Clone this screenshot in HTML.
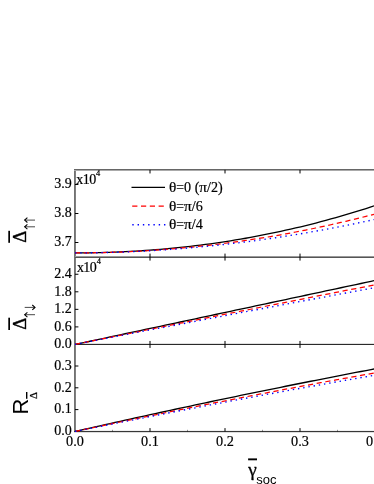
<!DOCTYPE html>
<html><head><meta charset="utf-8"><title>chart</title>
<style>html,body{margin:0;padding:0;background:#fff;}body{width:374px;height:484px;overflow:hidden;font-family:"Liberation Sans",sans-serif;}svg{display:block;will-change:transform;}</style></head>
<body>
<svg width="374" height="484" viewBox="0 0 374 484">
<rect width="374" height="484" fill="#fff"/>
<rect x="74" y="169" width="1" height="263" fill="#727272"/>
<rect x="75" y="169" width="1" height="263" fill="#808080"/>
<rect x="74" y="169" width="300" height="1" fill="#666"/>
<rect x="74" y="170" width="300" height="1" fill="#aaa"/>
<rect x="75" y="256" width="299" height="1" fill="#999"/>
<rect x="75" y="257" width="299" height="1" fill="#555"/>
<rect x="76" y="343" width="298" height="1" fill="#e0e0e0"/>
<rect x="75" y="344" width="299" height="1" fill="#2a2a2a"/>
<rect x="76" y="430" width="298" height="1" fill="#f0f0f0"/>
<rect x="74" y="431" width="300" height="1" fill="#383838"/>
<rect x="74" y="432" width="300" height="1" fill="#ddd"/>
<defs><clipPath id="c"><rect x="74" y="169.85" width="300" height="262.25"/></clipPath></defs>
<g clip-path="url(#c)">
<path d="M75.0,252.90 L80.0,252.89 L85.0,252.85 L90.0,252.79 L95.1,252.71 L100.1,252.60 L105.1,252.47 L110.1,252.31 L115.1,252.12 L120.2,251.92 L125.2,251.68 L130.2,251.43 L135.2,251.14 L140.2,250.83 L145.2,250.50 L150.2,250.14 L155.3,249.75 L160.3,249.34 L165.3,248.90 L170.3,248.44 L175.3,247.95 L180.3,247.43 L185.4,246.89 L190.4,246.32 L195.4,245.72 L200.4,245.10 L205.4,244.45 L210.4,243.77 L215.5,243.06 L220.5,242.33 L225.5,241.57 L230.5,240.78 L235.5,239.96 L240.6,239.12 L245.6,238.25 L250.6,237.34 L255.6,236.42 L260.6,235.46 L265.6,234.47 L270.6,233.46 L275.7,232.41 L280.7,231.34 L285.7,230.24 L290.7,229.11 L295.7,227.95 L300.8,226.76 L305.8,225.54 L310.8,224.29 L315.8,223.01 L320.8,221.70 L325.8,220.36 L330.9,218.99 L335.9,217.59 L340.9,216.16 L345.9,214.69 L350.9,213.20 L355.9,211.68 L360.9,210.12 L366.0,208.54 L371.0,206.92 L376.0,205.27" stroke="#000" stroke-width="1.3" fill="none"/>
<path d="M75.0,252.90 L80.0,252.89 L85.0,252.86 L90.0,252.80 L95.1,252.73 L100.1,252.64 L105.1,252.52 L110.1,252.38 L115.1,252.22 L120.2,252.04 L125.2,251.84 L130.2,251.61 L135.2,251.37 L140.2,251.10 L145.2,250.81 L150.2,250.50 L155.3,250.17 L160.3,249.82 L165.3,249.45 L170.3,249.05 L175.3,248.63 L180.3,248.19 L185.4,247.73 L190.4,247.25 L195.4,246.74 L200.4,246.21 L205.4,245.67 L210.4,245.09 L215.5,244.50 L220.5,243.89 L225.5,243.25 L230.5,242.59 L235.5,241.91 L240.6,241.21 L245.6,240.48 L250.6,239.74 L255.6,238.97 L260.6,238.17 L265.6,237.36 L270.6,236.52 L275.7,235.66 L280.7,234.78 L285.7,233.88 L290.7,232.95 L295.7,232.01 L300.8,231.04 L305.8,230.04 L310.8,229.03 L315.8,227.99 L320.8,226.93 L325.8,225.84 L330.9,224.74 L335.9,223.61 L340.9,222.46 L345.9,221.28 L350.9,220.09 L355.9,218.87 L360.9,217.62 L366.0,216.36 L371.0,215.07 L376.0,213.76" stroke="#ff0000" stroke-width="1.25" fill="none" stroke-dasharray="5.2,3.6"/>
<path d="M75.0,252.90 L80.0,252.89 L85.0,252.86 L90.0,252.81 L95.1,252.75 L100.1,252.66 L105.1,252.55 L110.1,252.43 L115.1,252.28 L120.2,252.12 L125.2,251.94 L130.2,251.73 L135.2,251.51 L140.2,251.27 L145.2,251.02 L150.2,250.74 L155.3,250.44 L160.3,250.13 L165.3,249.79 L170.3,249.44 L175.3,249.07 L180.3,248.68 L185.4,248.27 L190.4,247.84 L195.4,247.39 L200.4,246.93 L205.4,246.44 L210.4,245.94 L215.5,245.42 L220.5,244.88 L225.5,244.32 L230.5,243.75 L235.5,243.15 L240.6,242.54 L245.6,241.91 L250.6,241.26 L255.6,240.59 L260.6,239.90 L265.6,239.20 L270.6,238.47 L275.7,237.73 L280.7,236.97 L285.7,236.19 L290.7,235.40 L295.7,234.59 L300.8,233.75 L305.8,232.90 L310.8,232.04 L315.8,231.15 L320.8,230.25 L325.8,229.33 L330.9,228.39 L335.9,227.43 L340.9,226.46 L345.9,225.46 L350.9,224.45 L355.9,223.43 L360.9,222.38 L366.0,221.32 L371.0,220.24 L376.0,219.14" stroke="#0000ff" stroke-width="1.35" fill="none" stroke-dasharray="1.4,3.88"/>
<path d="M75.0,344.45 L80.0,343.38 L85.0,342.31 L90.0,341.24 L95.1,340.17 L100.1,339.10 L105.1,338.03 L110.1,336.96 L115.1,335.89 L120.2,334.82 L125.2,333.75 L130.2,332.68 L135.2,331.62 L140.2,330.55 L145.2,329.48 L150.2,328.41 L155.3,327.34 L160.3,326.27 L165.3,325.20 L170.3,324.13 L175.3,323.06 L180.3,321.99 L185.4,320.92 L190.4,319.85 L195.4,318.78 L200.4,317.71 L205.4,316.64 L210.4,315.57 L215.5,314.50 L220.5,313.43 L225.5,312.36 L230.5,311.29 L235.5,310.22 L240.6,309.15 L245.6,308.09 L250.6,307.02 L255.6,305.95 L260.6,304.88 L265.6,303.81 L270.6,302.74 L275.7,301.67 L280.7,300.60 L285.7,299.53 L290.7,298.46 L295.7,297.39 L300.8,296.32 L305.8,295.25 L310.8,294.18 L315.8,293.11 L320.8,292.04 L325.8,290.97 L330.9,289.90 L335.9,288.83 L340.9,287.76 L345.9,286.69 L350.9,285.62 L355.9,284.56 L360.9,283.49 L366.0,282.42 L371.0,281.35 L376.0,280.28" stroke="#000" stroke-width="1.3" fill="none"/>
<path d="M75.0,344.45 L80.0,343.43 L85.0,342.41 L90.0,341.40 L95.1,340.38 L100.1,339.37 L105.1,338.35 L110.1,337.34 L115.1,336.33 L120.2,335.31 L125.2,334.30 L130.2,333.29 L135.2,332.28 L140.2,331.27 L145.2,330.26 L150.2,329.25 L155.3,328.25 L160.3,327.24 L165.3,326.23 L170.3,325.23 L175.3,324.22 L180.3,323.22 L185.4,322.22 L190.4,321.21 L195.4,320.21 L200.4,319.21 L205.4,318.21 L210.4,317.21 L215.5,316.21 L220.5,315.21 L225.5,314.22 L230.5,313.22 L235.5,312.22 L240.6,311.23 L245.6,310.23 L250.6,309.24 L255.6,308.24 L260.6,307.25 L265.6,306.26 L270.6,305.27 L275.7,304.28 L280.7,303.29 L285.7,302.30 L290.7,301.31 L295.7,300.32 L300.8,299.34 L305.8,298.35 L310.8,297.36 L315.8,296.38 L320.8,295.40 L325.8,294.41 L330.9,293.43 L335.9,292.45 L340.9,291.47 L345.9,290.48 L350.9,289.50 L355.9,288.53 L360.9,287.55 L366.0,286.57 L371.0,285.59 L376.0,284.62" stroke="#ff0000" stroke-width="1.25" fill="none" stroke-dasharray="5.2,3.6"/>
<path d="M75.0,344.45 L80.0,343.48 L85.0,342.51 L90.0,341.53 L95.1,340.56 L100.1,339.59 L105.1,338.62 L110.1,337.66 L115.1,336.69 L120.2,335.72 L125.2,334.76 L130.2,333.79 L135.2,332.83 L140.2,331.86 L145.2,330.90 L150.2,329.94 L155.3,328.97 L160.3,328.01 L165.3,327.05 L170.3,326.09 L175.3,325.14 L180.3,324.18 L185.4,323.22 L190.4,322.27 L195.4,321.31 L200.4,320.36 L205.4,319.40 L210.4,318.45 L215.5,317.50 L220.5,316.54 L225.5,315.59 L230.5,314.64 L235.5,313.69 L240.6,312.74 L245.6,311.80 L250.6,310.85 L255.6,309.90 L260.6,308.96 L265.6,308.01 L270.6,307.07 L275.7,306.12 L280.7,305.18 L285.7,304.24 L290.7,303.30 L295.7,302.36 L300.8,301.42 L305.8,300.48 L310.8,299.54 L315.8,298.60 L320.8,297.67 L325.8,296.73 L330.9,295.80 L335.9,294.86 L340.9,293.93 L345.9,293.00 L350.9,292.06 L355.9,291.13 L360.9,290.20 L366.0,289.27 L371.0,288.34 L376.0,287.42" stroke="#0000ff" stroke-width="1.35" fill="none" stroke-dasharray="1.4,3.88"/>
<path d="M75.0,431.50 L80.0,430.36 L85.0,429.22 L90.0,428.08 L95.1,426.95 L100.1,425.81 L105.1,424.69 L110.1,423.56 L115.1,422.44 L120.2,421.32 L125.2,420.21 L130.2,419.10 L135.2,417.99 L140.2,416.89 L145.2,415.79 L150.2,414.69 L155.3,413.59 L160.3,412.50 L165.3,411.41 L170.3,410.33 L175.3,409.25 L180.3,408.17 L185.4,407.09 L190.4,406.02 L195.4,404.95 L200.4,403.88 L205.4,402.82 L210.4,401.76 L215.5,400.71 L220.5,399.65 L225.5,398.60 L230.5,397.56 L235.5,396.52 L240.6,395.48 L245.6,394.44 L250.6,393.41 L255.6,392.38 L260.6,391.35 L265.6,390.33 L270.6,389.31 L275.7,388.29 L280.7,387.27 L285.7,386.26 L290.7,385.26 L295.7,384.25 L300.8,383.25 L305.8,382.25 L310.8,381.26 L315.8,380.27 L320.8,379.28 L325.8,378.30 L330.9,377.32 L335.9,376.34 L340.9,375.36 L345.9,374.39 L350.9,373.42 L355.9,372.46 L360.9,371.50 L366.0,370.54 L371.0,369.58 L376.0,368.63" stroke="#000" stroke-width="1.3" fill="none"/>
<path d="M75.0,431.50 L80.0,430.43 L85.0,429.37 L90.0,428.31 L95.1,427.25 L100.1,426.19 L105.1,425.14 L110.1,424.09 L115.1,423.04 L120.2,422.00 L125.2,420.96 L130.2,419.92 L135.2,418.89 L140.2,417.86 L145.2,416.83 L150.2,415.80 L155.3,414.78 L160.3,413.76 L165.3,412.74 L170.3,411.73 L175.3,410.72 L180.3,409.71 L185.4,408.70 L190.4,407.70 L195.4,406.70 L200.4,405.71 L205.4,404.71 L210.4,403.72 L215.5,402.73 L220.5,401.75 L225.5,400.77 L230.5,399.79 L235.5,398.81 L240.6,397.84 L245.6,396.87 L250.6,395.91 L255.6,394.94 L260.6,393.98 L265.6,393.02 L270.6,392.07 L275.7,391.12 L280.7,390.17 L285.7,389.22 L290.7,388.28 L295.7,387.34 L300.8,386.40 L305.8,385.47 L310.8,384.54 L315.8,383.61 L320.8,382.68 L325.8,381.76 L330.9,380.84 L335.9,379.93 L340.9,379.01 L345.9,378.10 L350.9,377.20 L355.9,376.29 L360.9,375.39 L366.0,374.49 L371.0,373.60 L376.0,372.70" stroke="#ff0000" stroke-width="1.25" fill="none" stroke-dasharray="5.2,3.6"/>
<path d="M75.0,431.50 L80.0,430.48 L85.0,429.47 L90.0,428.46 L95.1,427.45 L100.1,426.44 L105.1,425.44 L110.1,424.44 L115.1,423.44 L120.2,422.44 L125.2,421.45 L130.2,420.45 L135.2,419.47 L140.2,418.48 L145.2,417.50 L150.2,416.51 L155.3,415.54 L160.3,414.56 L165.3,413.59 L170.3,412.62 L175.3,411.65 L180.3,410.68 L185.4,409.72 L190.4,408.76 L195.4,407.80 L200.4,406.84 L205.4,405.89 L210.4,404.94 L215.5,403.99 L220.5,403.05 L225.5,402.11 L230.5,401.17 L235.5,400.23 L240.6,399.29 L245.6,398.36 L250.6,397.43 L255.6,396.50 L260.6,395.58 L265.6,394.66 L270.6,393.74 L275.7,392.82 L280.7,391.90 L285.7,390.99 L290.7,390.08 L295.7,389.18 L300.8,388.27 L305.8,387.37 L310.8,386.47 L315.8,385.58 L320.8,384.68 L325.8,383.79 L330.9,382.90 L335.9,382.01 L340.9,381.13 L345.9,380.25 L350.9,379.37 L355.9,378.49 L360.9,377.62 L366.0,376.75 L371.0,375.88 L376.0,375.02" stroke="#0000ff" stroke-width="1.35" fill="none" stroke-dasharray="1.4,3.88"/>
</g>
<path d="M150.00,169.85 v3.6 M150.00,253.60000000000002 v7 M150.00,340.95 v7 M150.00,431.5 v-3.4 M225.00,169.85 v3.6 M225.00,253.60000000000002 v7 M225.00,340.95 v7 M225.00,431.5 v-3.4 M300.00,169.85 v3.6 M300.00,253.60000000000002 v7 M300.00,340.95 v7 M300.00,431.5 v-3.4 M375.00,169.85 v3.6 M375.00,253.60000000000002 v7 M375.00,340.95 v7 M375.00,431.5 v-3.4 " stroke="#000" stroke-width="1" fill="none"/>
<path d="M112.50,431.5 v-1.7 M187.50,431.5 v-1.7 M262.50,431.5 v-1.7 M337.50,431.5 v-1.7 " stroke="#000" stroke-width="0.8" opacity="0.5" fill="none"/>
<path d="M75.0,184.50 h3.4 M75.0,213.50 h3.4 M75.0,242.50 h3.4 M75.0,274.25 h3.4 M75.0,291.80 h3.4 M75.0,309.35 h3.4 M75.0,326.90 h3.4 M75.0,366.00 h3.4 M75.0,387.80 h3.4 M75.0,409.60 h3.4 " stroke="#000" stroke-width="1" fill="none"/>
<text transform="translate(71.7,188.3) scale(0.955,1.04)" text-anchor="end" font-family="Liberation Serif, serif" font-size="14.7" fill="#000" stroke="#000" stroke-width="0.2">3.9</text>
<text transform="translate(71.7,217.3) scale(0.955,1.04)" text-anchor="end" font-family="Liberation Serif, serif" font-size="14.7" fill="#000" stroke="#000" stroke-width="0.2">3.8</text>
<text transform="translate(71.7,246.3) scale(0.955,1.04)" text-anchor="end" font-family="Liberation Serif, serif" font-size="14.7" fill="#000" stroke="#000" stroke-width="0.2">3.7</text>
<text transform="translate(71.7,278.1) scale(0.955,1.04)" text-anchor="end" font-family="Liberation Serif, serif" font-size="14.7" fill="#000" stroke="#000" stroke-width="0.2">2.4</text>
<text transform="translate(71.7,295.6) scale(0.955,1.04)" text-anchor="end" font-family="Liberation Serif, serif" font-size="14.7" fill="#000" stroke="#000" stroke-width="0.2">1.8</text>
<text transform="translate(71.7,313.2) scale(0.955,1.04)" text-anchor="end" font-family="Liberation Serif, serif" font-size="14.7" fill="#000" stroke="#000" stroke-width="0.2">1.2</text>
<text transform="translate(71.7,330.7) scale(0.955,1.04)" text-anchor="end" font-family="Liberation Serif, serif" font-size="14.7" fill="#000" stroke="#000" stroke-width="0.2">0.6</text>
<text transform="translate(71.7,348.2) scale(0.955,1.04)" text-anchor="end" font-family="Liberation Serif, serif" font-size="14.7" fill="#000" stroke="#000" stroke-width="0.2">0.0</text>
<text transform="translate(71.7,369.8) scale(0.955,1.04)" text-anchor="end" font-family="Liberation Serif, serif" font-size="14.7" fill="#000" stroke="#000" stroke-width="0.2">0.3</text>
<text transform="translate(71.7,391.6) scale(0.955,1.04)" text-anchor="end" font-family="Liberation Serif, serif" font-size="14.7" fill="#000" stroke="#000" stroke-width="0.2">0.2</text>
<text transform="translate(71.7,413.4) scale(0.955,1.04)" text-anchor="end" font-family="Liberation Serif, serif" font-size="14.7" fill="#000" stroke="#000" stroke-width="0.2">0.1</text>
<text transform="translate(71.7,435.3) scale(0.955,1.04)" text-anchor="end" font-family="Liberation Serif, serif" font-size="14.7" fill="#000" stroke="#000" stroke-width="0.2">0.0</text>
<text transform="translate(75.0,445.9) scale(0.97,1.01)" text-anchor="middle" font-family="Liberation Serif, serif" font-size="14.7" fill="#000" stroke="#000" stroke-width="0.2">0.0</text>
<text transform="translate(150.0,445.9) scale(0.97,1.01)" text-anchor="middle" font-family="Liberation Serif, serif" font-size="14.7" fill="#000" stroke="#000" stroke-width="0.2">0.1</text>
<text transform="translate(225.0,445.9) scale(0.97,1.01)" text-anchor="middle" font-family="Liberation Serif, serif" font-size="14.7" fill="#000" stroke="#000" stroke-width="0.2">0.2</text>
<text transform="translate(300.0,445.9) scale(0.97,1.01)" text-anchor="middle" font-family="Liberation Serif, serif" font-size="14.7" fill="#000" stroke="#000" stroke-width="0.2">0.3</text>
<text transform="translate(375.0,445.9) scale(0.97,1.01)" text-anchor="middle" font-family="Liberation Serif, serif" font-size="14.7" fill="#000" stroke="#000" stroke-width="0.2">0.4</text>
<text x="76.2" y="184.0" font-size="14" letter-spacing="-0.5" font-family="Liberation Serif, serif" fill="#000" stroke="#000" stroke-width="0.2">x10</text>
<text x="96.1" y="176.4" font-size="8.4" font-family="Liberation Serif, serif" fill="#000" stroke="#000" stroke-width="0.2">4</text>
<text x="77.0" y="271.5" font-size="14" letter-spacing="-0.65" font-family="Liberation Serif, serif" fill="#000" stroke="#000" stroke-width="0.2">x10</text>
<text x="96.7" y="263.9" font-size="8.4" font-family="Liberation Serif, serif" fill="#000" stroke="#000" stroke-width="0.2">4</text>
<path d="M131.5,187.3 H165" stroke="#000" stroke-width="1.3" fill="none"/>
<path d="M132.2,206.2 H165.5" stroke="#ff0000" stroke-width="1.25" fill="none" stroke-dasharray="5.2,3.6"/>
<path d="M132.3,224.75 H165.5" stroke="#0000ff" stroke-width="1.35" fill="none" stroke-dasharray="1.4,3.88"/>
<text x="169.00" y="191.9" textLength="7.35" lengthAdjust="spacingAndGlyphs" font-family="Liberation Serif, serif" font-size="14.1" fill="#000" stroke="#000" stroke-width="0.2">θ</text>
<text x="176.35" y="191.9" textLength="7.74" lengthAdjust="spacingAndGlyphs" font-family="Liberation Serif, serif" font-size="14.1" fill="#000" stroke="#000" stroke-width="0.2">=</text>
<text x="184.09" y="191.9" font-family="Liberation Serif, serif" font-size="14.1" fill="#000" stroke="#000" stroke-width="0.2">0</text>
<text x="194.66" y="191.9" font-family="Liberation Serif, serif" font-size="14.1" fill="#000" stroke="#000" stroke-width="0.2">(</text>
<text x="199.36" y="191.9" textLength="7.74" lengthAdjust="spacingAndGlyphs" font-family="Liberation Serif, serif" font-size="14.1" fill="#000" stroke="#000" stroke-width="0.2">π</text>
<text x="207.10" y="191.9" font-family="Liberation Serif, serif" font-size="14.1" fill="#000" stroke="#000" stroke-width="0.2">/</text>
<text x="211.02" y="191.9" font-family="Liberation Serif, serif" font-size="14.1" fill="#000" stroke="#000" stroke-width="0.2">2</text>
<text x="218.07" y="191.9" font-family="Liberation Serif, serif" font-size="14.1" fill="#000" stroke="#000" stroke-width="0.2">)</text>
<text x="169.00" y="210.5" textLength="7.35" lengthAdjust="spacingAndGlyphs" font-family="Liberation Serif, serif" font-size="14.1" fill="#000" stroke="#000" stroke-width="0.2">θ</text>
<text x="176.35" y="210.5" textLength="7.74" lengthAdjust="spacingAndGlyphs" font-family="Liberation Serif, serif" font-size="14.1" fill="#000" stroke="#000" stroke-width="0.2">=</text>
<text x="184.09" y="210.5" textLength="7.74" lengthAdjust="spacingAndGlyphs" font-family="Liberation Serif, serif" font-size="14.1" fill="#000" stroke="#000" stroke-width="0.2">π</text>
<text x="191.83" y="210.5" font-family="Liberation Serif, serif" font-size="14.1" fill="#000" stroke="#000" stroke-width="0.2">/</text>
<text x="195.75" y="210.5" font-family="Liberation Serif, serif" font-size="14.1" fill="#000" stroke="#000" stroke-width="0.2">6</text>
<text x="169.00" y="229.0" textLength="7.35" lengthAdjust="spacingAndGlyphs" font-family="Liberation Serif, serif" font-size="14.1" fill="#000" stroke="#000" stroke-width="0.2">θ</text>
<text x="176.35" y="229.0" textLength="7.74" lengthAdjust="spacingAndGlyphs" font-family="Liberation Serif, serif" font-size="14.1" fill="#000" stroke="#000" stroke-width="0.2">=</text>
<text x="184.09" y="229.0" textLength="7.74" lengthAdjust="spacingAndGlyphs" font-family="Liberation Serif, serif" font-size="14.1" fill="#000" stroke="#000" stroke-width="0.2">π</text>
<text x="191.83" y="229.0" font-family="Liberation Serif, serif" font-size="14.1" fill="#000" stroke="#000" stroke-width="0.2">/</text>
<text x="195.75" y="229.0" font-family="Liberation Serif, serif" font-size="14.1" fill="#000" stroke="#000" stroke-width="0.2">4</text>
<text transform="translate(26.3,242.63) rotate(-90)" font-size="18.7" stroke="#000" stroke-width="0.37" font-family="Liberation Serif, serif" fill="#000">Δ</text>
<rect x="8.3" y="230.8" width="1.7" height="12.0" fill="#000"/>
<path d="M35.0,226.8 H24.7" stroke="#000" stroke-width="0.9" fill="none" opacity="0.8"/><path d="M27.4,224.4 L24.7,226.8 L27.4,229.20000000000002" stroke="#000" stroke-width="1.1" fill="none"/>
<path d="M35.0,220.1 H24.7" stroke="#000" stroke-width="0.9" fill="none" opacity="0.8"/><path d="M27.4,217.7 L24.7,220.1 L27.4,222.5" stroke="#000" stroke-width="1.1" fill="none"/>
<text transform="translate(26.3,329.73) rotate(-90)" font-size="18.7" stroke="#000" stroke-width="0.37" font-family="Liberation Serif, serif" fill="#000">Δ</text>
<rect x="8.3" y="317.7" width="1.7" height="12.300000000000011" fill="#000"/>
<path d="M35.0,314.7 H24.7" stroke="#000" stroke-width="0.9" fill="none" opacity="0.8"/><path d="M27.4,312.3 L24.7,314.7 L27.4,317.09999999999997" stroke="#000" stroke-width="1.1" fill="none"/>
<path d="M24.7,307.4 H35.0" stroke="#000" stroke-width="0.9" fill="none" opacity="0.8"/><path d="M32.3,305.0 L35.0,307.4 L32.3,309.79999999999995" stroke="#000" stroke-width="1.1" fill="none"/>
<text transform="translate(28.3,414.5) rotate(-90)" font-family="Liberation Sans, sans-serif" font-size="22" fill="#000">R</text>
<text transform="translate(36.7,399.08) rotate(-90)" font-size="10.8" stroke="#000" stroke-width="0.22" font-family="Liberation Serif, serif" fill="#000">Δ</text>
<rect x="26.0" y="392.0" width="1.4" height="6.800000000000011" fill="#000"/>
<rect x="248.1" y="458.4" width="8.9" height="1.9" fill="#000"/>
<text x="248.3" y="476.3" font-size="19.3" stroke="#000" stroke-width="0.3" font-family="Liberation Serif, serif" fill="#000">γ</text>
<text x="256.3" y="484.2" font-family="Liberation Sans, sans-serif" font-size="13" fill="#000">soc</text>
</svg>
</body></html>
